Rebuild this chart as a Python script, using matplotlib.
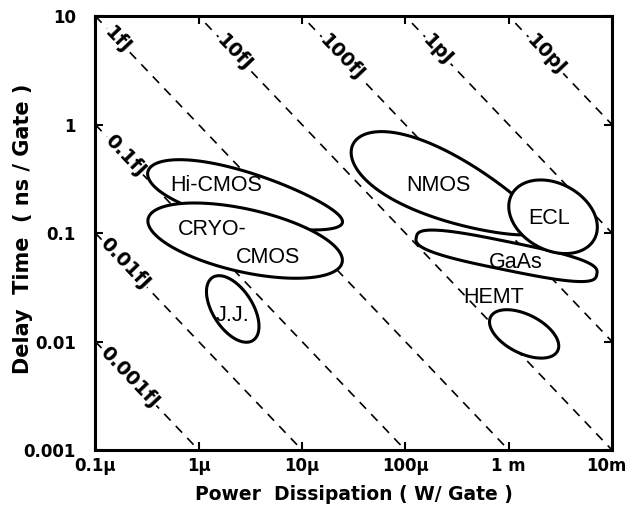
import numpy as np
import matplotlib
matplotlib.use("Agg")
import matplotlib.pyplot as plt
from matplotlib.transforms import ScaledTranslation

plt.rcParams["font.family"] = ["DejaVu Sans"]

# ---- data ----
power_ticks = [1e-7, 1e-6, 1e-5, 1e-4, 1e-3, 1e-2]
power_tick_labels = ["0.1\u03bc", "1\u03bc", "10\u03bc", "100\u03bc", "1 m", "10m"]
delay_ticks = [1e-3, 1e-2, 1e-1, 1, 10]
delay_tick_labels = ["0.001", "0.01", "0.1", "1", "10"]

# constant switching energy lines: power (W) x delay (ns)
energy_wns = [1e-9, 1e-8, 1e-7, 1e-6, 1e-5, 1e-4, 1e-3, 1e-2]
energy_labels = ["0.001fJ", "0.01fJ", "0.1fJ", "1fJ", "10fJ", "100fJ", "1pJ", "10pJ"]

# technology regions (log10 power, log10 delay, half extents in decades, tilt deg)
region_names = ["Hi-CMOS", "CRYO-CMOS", "NMOS", "GaAs", "ECL", "HEMT", "J.J."]
region_logP = [-5.55, -5.55, -3.60, -3.02, -2.57, -2.85, -5.67]
region_logt = [-0.67, -1.07, -0.58, -1.21, -0.85, -1.93, -1.70]
region_half_major = [0.97, 0.96, 0.99, 0.89, 0.45, 0.36, 0.35]
region_half_minor = [0.23, 0.29, 0.30, 0.13, 0.31, 0.18, 0.19]
region_tilt = [-14, -12, -23, -11, -25, -25, -55]
region_egg = [0.2, 0.0, 0.3, 0.0, 0.0, 0.0, 0.0]
region_square = [2, 2, 2, 3, 2, 2, 2]

label_texts = ["Hi-CMOS", "CRYO-", "CMOS", "NMOS", "ECL", "GaAs", "HEMT", "J.J."]
label_P = [1.48e-6, 1.36e-6, 4.71e-6, 2.07e-4, 2.46e-3, 1.18e-3, 7.23e-4, 2.11e-6]
label_t = [0.277, 0.107, 0.060, 0.277, 0.137, 0.054, 0.0252, 0.0175]

# ---- figure ----
fig = plt.figure(figsize=(6.27, 5.19), dpi=100)
ax = fig.add_axes([0.152, 0.133, 0.824, 0.836])
ax.set_xscale("log")
ax.set_yscale("log")
xmin, xmax = power_ticks[0], power_ticks[-1]
ymin, ymax = delay_ticks[0], delay_ticks[-1]
ax.set_xlim(xmin, xmax)
ax.set_ylim(ymin, ymax)

for s in ax.spines.values():
    s.set_linewidth(2.2)

ax.set_xticks(power_ticks)
ax.set_xticklabels(power_tick_labels)
ax.set_yticks(delay_ticks)
ax.set_yticklabels(delay_tick_labels)
ax.minorticks_off()
ax.tick_params(which="major", direction="in", length=6, width=1.5,
               top=True, right=True, labelsize=12)
ax.tick_params(axis="x", pad=5)
ax.tick_params(axis="y", pad=14)
for lab in ax.get_xticklabels() + ax.get_yticklabels():
    lab.set_fontweight("bold")
last = ax.get_xticklabels()[-1]
last.set_transform(last.get_transform() + ScaledTranslation(-6 / 100, 0, fig.dpi_scale_trans))

ax.set_xlabel("Power  Dissipation ( W/ Gate )", fontsize=13.5, fontweight="bold", labelpad=7)
ax.set_ylabel("Delay  Time  ( ns / Gate )", fontsize=15, fontweight="bold")
ax.yaxis.set_label_coords(-0.121, 0.51)

# rotation of constant-energy lines in display space
fig.canvas.draw()
p0 = ax.transData.transform((1e-5, 1e-1))
p1 = ax.transData.transform((1e-4, 1e-2))
angle = np.degrees(np.arctan2(p1[1] - p0[1], p1[0] - p0[0]))

P_line = np.logspace(-7, -2, 200)
for E, lab in zip(energy_wns, energy_labels):
    t_line = E / P_line
    ax.plot(P_line, t_line, color="black", lw=1.2, ls=(0, (5.5, 4.5)), zorder=1)
    # start point on the frame
    if E / xmin <= ymax:
        lp0, lt0 = np.log10(xmin), np.log10(E / xmin)
        d = 0.07 if E < 1e-7 else 0.12
    else:
        lp0, lt0 = np.log10(E / ymax), np.log10(ymax)
        d = 0.2
    ax.text(10 ** (lp0 + d), 10 ** (lt0 - d), lab, rotation=angle,
            rotation_mode="anchor", ha="left", va="center", fontsize=14,
            fontweight="bold", zorder=2, bbox=dict(fc="white", ec="none", pad=0.8))

# regions
tt = np.linspace(0, 2 * np.pi, 400)
zorders = [3, 4, 3, 4, 5, 3, 3]
for i in range(len(region_names)):
    a, b = region_half_major[i], region_half_minor[i]
    n = region_square[i]
    c, s = np.cos(tt), np.sin(tt)
    u = a * np.sign(c) * np.abs(c) ** (2.0 / n)
    v = b * np.sign(s) * np.abs(s) ** (2.0 / n) * (1 - region_egg[i] * c)
    th = np.radians(region_tilt[i])
    xx = region_logP[i] + u * np.cos(th) - v * np.sin(th)
    yy = region_logt[i] + u * np.sin(th) + v * np.cos(th)
    ax.fill(10 ** xx, 10 ** yy, facecolor="white", edgecolor="black",
            lw=2.2, zorder=zorders[i])

for txt, P, t in zip(label_texts, label_P, label_t):
    ax.text(P, t, txt, ha="center", va="center", fontsize=15.5,
            family=["Liberation Sans", "DejaVu Sans"], zorder=10)

fig.savefig("out.png", dpi=100)
